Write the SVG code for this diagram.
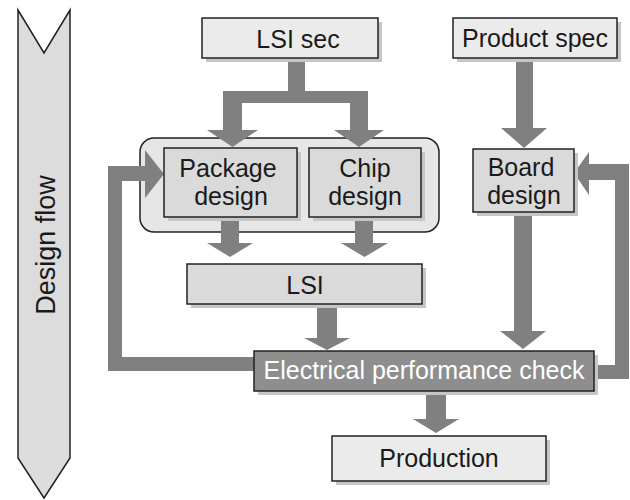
<svg xmlns="http://www.w3.org/2000/svg" width="630" height="500" viewBox="0 0 630 500">
<style>
.t{font-family:"Liberation Sans",Arial,sans-serif;font-size:25px;fill:#1a1a1a;text-anchor:middle}
.box{stroke:#222;stroke-width:1.5}
.lt{fill:#ebebeb}
.md{fill:#dadada}
.sh{fill:#c6c6c6}
.arr{fill:#808080}
</style>
<rect width="630" height="500" fill="#ffffff"/>
<g id="design-flow">
<polygon points="18,10 44,53 70,10 70,458 44,498 18,458" fill="#dcdcdc" stroke="#222" stroke-width="1.5"/>
<text class="t" style="font-size:27px" x="55" y="245" transform="rotate(-90 55 245)">Design flow</text>
</g>
<g id="group-lsi-design">
<rect x="140" y="138" width="299" height="94" rx="14" fill="#e6e6e6" stroke="#222" stroke-width="1.5"/>
</g>
<g id="connectors">
<path class="arr" d="M288,57 L305,57 L305,91 L368,91 L368,130 L384,130 L359,147 L334,130 L350,130 L350,103 L242,103 L242,130 L258,130 L232.5,147 L207,130 L223,130 L223,91 L288,91 Z"/>
<path class="arr" d="M516,57 L533,57 L533,128 L547,128 L524,148 L501,128 L516,128 Z"/>
<path class="arr" d="M590,365 L615,365 L615,180 L589,180 L589,195 L574,173 L589,152 L589,164 L629,164 L629,379 L590,379 Z"/>
<path class="arr" d="M258,357 L122,357 L122,181 L145,181 L145,198 L164,174 L145,150 L145,166 L108,166 L108,371 L258,371 Z"/>
<path class="arr" d="M221,217 L239,217 L239,243 L253,243 L230,257 L207,243 L221,243 Z"/>
<path class="arr" d="M355,217 L373,217 L373,243 L388,243 L364.5,257 L341,243 L355,243 Z"/>
<path class="arr" d="M317,304 L337,304 L337,338 L350,338 L327,350 L304,338 L317,338 Z"/>
<path class="arr" d="M514,212 L532,212 L532,331 L546,331 L523,349 L500,331 L514,331 Z"/>
<path class="arr" d="M426,391 L446,391 L446,419 L459,419 L436,433 L413,419 L426,419 Z"/>
</g>
<g id="lsi-sec">
<rect class="sh" x="206" y="22" width="176" height="40"/>
<rect class="box lt" x="202" y="18" width="176" height="40"/>
<text class="t" x="298" y="48">LSI sec</text>
</g>
<g id="product-spec">
<rect class="sh" x="457" y="22" width="164" height="40"/>
<rect class="box lt" x="453" y="18" width="164" height="40"/>
<text class="t" x="535" y="47">Product spec</text>
</g>
<g id="package-design">
<rect class="sh" x="168" y="152" width="133" height="69"/>
<rect class="box md" x="164" y="148" width="133" height="69"/>
<text class="t" x="228" y="177">Package</text>
<text class="t" x="231" y="205">design</text>
</g>
<g id="chip-design">
<rect class="sh" x="313" y="152" width="112" height="69"/>
<rect class="box md" x="309" y="148" width="112" height="69"/>
<text class="t" x="365" y="177">Chip</text>
<text class="t" x="365" y="205">design</text>
</g>
<g id="board-design">
<rect class="sh" x="477" y="153" width="101" height="63"/>
<rect class="box md" x="473" y="149" width="101" height="63"/>
<text class="t" x="521" y="176">Board</text>
<text class="t" x="524" y="204">design</text>
</g>
<g id="lsi">
<rect class="sh" x="191" y="268" width="235" height="40"/>
<rect class="box md" x="187" y="264" width="235" height="40"/>
<text class="t" x="305" y="294">LSI</text>
</g>
<g id="electrical-performance-check">
<rect class="sh" x="258" y="355" width="340" height="40"/>
<rect class="box" x="254" y="351" width="340" height="40" fill="#8e8e8e"/>
<text class="t" x="424" y="379" style="fill:#ffffff">Electrical performance check</text>
</g>
<g id="production">
<rect class="sh" x="336" y="440" width="214" height="45"/>
<rect class="box lt" x="332" y="436" width="214" height="45"/>
<text class="t" x="439" y="467">Production</text>
</g>
</svg>
